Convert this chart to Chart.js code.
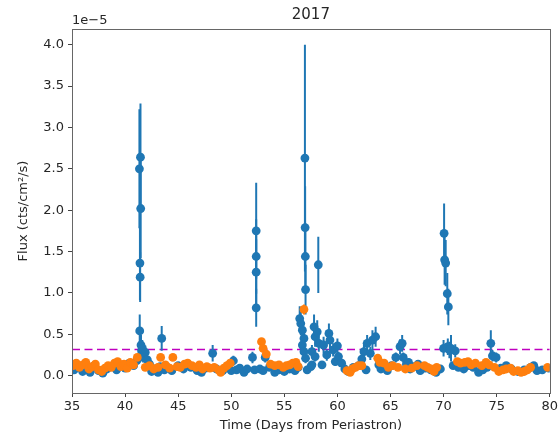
<!DOCTYPE html>
<html>
<head>
<meta charset="utf-8">
<title>2017</title>
<script src="https://cdn.jsdelivr.net/npm/chart.js@4/dist/chart.umd.min.js"></script>
<style>
  body { margin: 0; background: #fff; }
  #wrap { width: 560px; height: 437px; }
</style>
</head>
<body>
<div id="wrap"><canvas id="fluxChart" width="560" height="437"></canvas></div>
<script>
// flux in units of 1e-5 cts/cm^2/s, time in days from periastron
var blueX = [35.2, 35.6, 36.0, 36.3, 36.7, 37.1, 37.5, 37.9, 38.3, 38.8, 39.2, 39.6, 40.0, 40.4, 40.8, 41.1,
    41.35, 41.40, 41.42, 41.45, 41.47, 41.38, 41.50, 41.55, 41.62, 41.7, 41.9, 42.1, 42.3, 42.5, 42.8, 43.1,
    43.45, 43.3, 43.7, 44.0, 44.4, 45.0, 45.5, 46.2, 46.8, 47.2, 47.6, 48.25, 48.6, 49.2, 49.6, 50.2, 50.0,
    50.5, 50.8, 51.2, 51.5, 52.0, 52.2, 52.35, 52.35, 52.35, 52.35, 52.7, 53.0, 53.2, 53.6, 54.1, 54.5, 55.0,
    55.5, 56.0, 56.3, 56.45, 56.55, 56.7, 56.85, 56.7, 56.85, 57.0, 56.94, 56.96, 56.98, 57.0, 57.15, 57.5,
    57.6, 57.6, 57.8, 57.9, 57.9, 58.1, 58.2, 58.25, 58.55, 58.7, 59.0, 59.2, 59.3, 59.6, 59.8, 60.1, 60.0,
    60.4, 60.7, 61.0, 61.5, 62.0, 62.3, 62.5, 62.7, 62.8, 63.1, 63.3, 63.6, 63.9, 64.1, 64.4, 64.7, 65.1,
    65.5, 65.9, 66.1, 66.2, 66.5, 66.7, 66.85, 67.2, 67.6, 67.8, 68.3, 68.8, 69.3, 69.7, 70.0, 70.05, 70.1,
    70.2, 70.35, 70.45, 70.4, 70.55, 70.7, 70.9, 71.1, 71.4, 71.9, 72.4, 72.8, 73.3, 73.7, 74.1, 74.45, 74.6,
    74.95, 75.4, 75.9, 76.4, 77.0, 77.6, 78.2, 78.5, 78.8, 79.3, 79.9];
var blueY = [0.07, 0.10, 0.05, 0.09, 0.04, 0.12, 0.06, 0.03, 0.08, 0.11, 0.07, 0.13, 0.09, 0.15, 0.12, 0.18,
    2.50, 1.36, 1.19, 2.64, 2.02, 0.54, 0.37, 0.30, 0.33, 0.22, 0.28, 0.19, 0.14, 0.05, 0.08, 0.04,
    0.45, 0.11, 0.07, 0.10, 0.06, 0.12, 0.08, 0.10, 0.06, 0.04, 0.09, 0.27, 0.08, 0.06, 0.10, 0.18, 0.06,
    0.07, 0.09, 0.04, 0.08, 0.22, 0.07, 1.75, 1.44, 1.25, 0.82, 0.08, 0.06, 0.22, 0.10, 0.04, 0.07, 0.05,
    0.08, 0.06, 0.10, 0.69, 0.63, 0.55, 0.45, 0.37, 0.29, 0.21, 2.63, 1.79, 1.44, 1.04, 0.07, 0.11,
    0.29, 0.13, 0.59, 0.47, 0.23, 0.53, 1.34, 0.39, 0.13, 0.37, 0.25, 0.51, 0.43, 0.31, 0.17, 0.23, 0.36,
    0.15, 0.08, 0.05, 0.10, 0.12, 0.20, 0.29, 0.07, 0.39, 0.27, 0.43, 0.47, 0.13, 0.08, 0.11, 0.06, 0.12,
    0.22, 0.35, 0.39, 0.22, 0.14, 0.16, 0.08, 0.11, 0.14, 0.06, 0.09, 0.07, 0.04, 0.08, 0.33, 1.72, 1.40,
    1.36, 0.99, 0.83, 0.35, 0.31, 0.33, 0.12, 0.30, 0.10, 0.08, 0.12, 0.10, 0.04, 0.07, 0.10, 0.39, 0.24,
    0.22, 0.09, 0.12, 0.08, 0.05, 0.07, 0.10, 0.12, 0.06, 0.07, 0.09];
var blueErr = [0.03, 0.03, 0.03, 0.03, 0.03, 0.04, 0.03, 0.03, 0.03, 0.04, 0.03, 0.04, 0.03, 0.04, 0.04, 0.05,
    0.72, 0.45, 0.30, 0.65, 0.60, 0.20, 0.12, 0.10, 0.10, 0.06, 0.08, 0.05, 0.04, 0.03, 0.03, 0.03,
    0.15, 0.04, 0.03, 0.03, 0.03, 0.04, 0.03, 0.03, 0.03, 0.03, 0.03, 0.10, 0.03, 0.03, 0.03, 0.06, 0.03,
    0.03, 0.03, 0.03, 0.03, 0.07, 0.03, 0.58, 0.45, 0.40, 0.23, 0.03, 0.03, 0.06, 0.03, 0.03, 0.03, 0.03,
    0.03, 0.03, 0.04, 0.15, 0.14, 0.12, 0.10, 0.10, 0.08, 0.06, 1.37, 0.50, 0.40, 0.30, 0.03, 0.04,
    0.08, 0.04, 0.15, 0.12, 0.06, 0.14, 0.34, 0.10, 0.04, 0.10, 0.07, 0.12, 0.10, 0.08, 0.05, 0.06, 0.09,
    0.04, 0.03, 0.03, 0.03, 0.04, 0.06, 0.08, 0.03, 0.10, 0.08, 0.12, 0.12, 0.04, 0.03, 0.04, 0.03, 0.04,
    0.06, 0.09, 0.10, 0.06, 0.04, 0.05, 0.03, 0.03, 0.04, 0.03, 0.03, 0.03, 0.03, 0.03, 0.10, 0.36, 0.30,
    0.28, 0.25, 0.22, 0.10, 0.10, 0.16, 0.04, 0.08, 0.03, 0.03, 0.04, 0.03, 0.03, 0.03, 0.03, 0.16, 0.07,
    0.06, 0.03, 0.04, 0.03, 0.03, 0.03, 0.03, 0.04, 0.03, 0.03, 0.03];

var orangeX = [35.1, 35.4, 35.7, 36.0, 36.3, 36.6, 36.9, 37.2, 37.5, 37.8, 38.1, 38.4, 38.7, 39.0, 39.3, 39.6,
    39.9, 40.2, 40.5, 40.8, 41.15, 41.9, 42.3, 42.7, 43.1, 43.35, 43.8, 44.2, 44.5, 44.9, 45.2, 45.6, 45.9,
    46.3, 46.7, 47.0, 47.3, 47.7, 48.0, 48.4, 48.8, 49.0, 49.3, 49.6, 49.9, 52.85, 53.0, 53.3, 53.7, 54.1,
    54.5, 54.9, 55.2, 55.5, 55.8, 56.1, 56.3, 56.85, 60.9, 61.2, 61.4, 61.7, 62.0, 62.3, 63.8, 64.0, 64.4,
    64.8, 65.2, 65.7, 66.4, 67.0, 67.5, 68.2, 68.5, 68.8, 69.1, 69.35, 71.3, 71.6, 72.0, 72.3, 72.6, 73.0,
    73.6, 74.0, 74.3, 74.8, 75.2, 75.6, 75.9, 76.3, 76.6, 77.0, 77.3, 77.6, 77.9, 78.2, 79.8];
var orangeY = [0.12, 0.15, 0.10, 0.13, 0.16, 0.08, 0.11, 0.14, 0.07, 0.05, 0.09, 0.12, 0.10, 0.15, 0.17, 0.11,
    0.14, 0.09, 0.16, 0.13, 0.22, 0.10, 0.12, 0.08, 0.10, 0.22, 0.13, 0.09, 0.22, 0.11, 0.10, 0.14, 0.15,
    0.12, 0.10, 0.13, 0.08, 0.11, 0.09, 0.10, 0.07, 0.04, 0.09, 0.12, 0.15, 0.41, 0.33, 0.26, 0.14, 0.12,
    0.13, 0.10, 0.12, 0.13, 0.15, 0.16, 0.11, 0.80, 0.06, 0.04, 0.08, 0.10, 0.12, 0.12, 0.21, 0.16, 0.15,
    0.10, 0.12, 0.10, 0.08, 0.09, 0.12, 0.12, 0.10, 0.08, 0.05, 0.10, 0.17, 0.15, 0.16, 0.17, 0.13, 0.15,
    0.12, 0.16, 0.13, 0.10, 0.05, 0.07, 0.08, 0.09, 0.05, 0.06, 0.04, 0.05, 0.07, 0.10, 0.10];
var orangeErr = [0.02, 0.02, 0.02, 0.02, 0.02, 0.02, 0.02, 0.02, 0.02, 0.02, 0.02, 0.02, 0.02, 0.02, 0.02, 0.02,
    0.02, 0.02, 0.02, 0.02, 0.03, 0.02, 0.02, 0.02, 0.02, 0.03, 0.02, 0.02, 0.03, 0.02, 0.02, 0.02, 0.02,
    0.02, 0.02, 0.02, 0.02, 0.02, 0.02, 0.02, 0.02, 0.02, 0.02, 0.02, 0.02, 0.04, 0.03, 0.03, 0.02, 0.02,
    0.02, 0.02, 0.02, 0.02, 0.02, 0.02, 0.02, 0.06, 0.02, 0.02, 0.02, 0.02, 0.02, 0.02, 0.03, 0.02, 0.02,
    0.02, 0.02, 0.02, 0.02, 0.02, 0.02, 0.02, 0.02, 0.02, 0.02, 0.02, 0.02, 0.02, 0.02, 0.02, 0.02, 0.02,
    0.02, 0.02, 0.02, 0.02, 0.02, 0.02, 0.02, 0.02, 0.02, 0.02, 0.02, 0.02, 0.02, 0.02, 0.02];

var threshold = 0.315;
var xTicks = [35, 40, 45, 50, 55, 60, 65, 70, 75, 80];
var yTicks = [0.0, 0.5, 1.0, 1.5, 2.0, 2.5, 3.0, 3.5, 4.0];

var BLUE = '#1f77b4';
var ORANGE = '#ff7f0e';
var FONT = 'DejaVu Sans';

function pontos(xs, ys, errs) {
    return xs.map(function (x, i) { return { x: x, y: ys[i], err: errs[i] }; });
}

// vertical error bars, drawn just under each dataset's markers
var errorBars = {
    id: 'errorBars',
    beforeDatasetDraw: function (chart, args) {
        var ds = chart.data.datasets[args.index];
        if (!ds.errorBars) return;
        var ctx = chart.ctx, xs = chart.scales.x, ys = chart.scales.y;
        ctx.save();
        ctx.beginPath();
        ctx.rect(chart.chartArea.left, chart.chartArea.top, chart.chartArea.width, chart.chartArea.height);
        ctx.clip();
        ctx.strokeStyle = ds.borderColor;
        ctx.lineWidth = 2;
        ds.data.forEach(function (p) {
            var px = xs.getPixelForValue(p.x);
            ctx.beginPath();
            ctx.moveTo(px, ys.getPixelForValue(p.y - p.err));
            ctx.lineTo(px, ys.getPixelForValue(p.y + p.err));
            ctx.stroke();
        });
        ctx.restore();
    }
};

// frame around the plot, title and the 1e-5 offset label
var moldura = {
    id: 'moldura',
    afterDraw: function (chart) {
        var ctx = chart.ctx, a = chart.chartArea;
        ctx.save();
        ctx.strokeStyle = '#666';
        ctx.lineWidth = 1;
        ctx.strokeRect(Math.round(a.left) + 0.5, Math.round(a.top) + 0.5, Math.round(a.width), Math.round(a.height));
        ctx.fillStyle = '#262626';
        ctx.textBaseline = 'alphabetic';
        ctx.font = '15px "' + FONT + '"';
        ctx.textAlign = 'center';
        ctx.fillText('2017', (a.left + a.right) / 2, 19);
        ctx.font = '13px "' + FONT + '"';
        ctx.textAlign = 'left';
        ctx.fillText('1e\u22125', a.left, 24);
        ctx.restore();
    }
};

var ctx = document.getElementById('fluxChart').getContext('2d');
var fluxChart = new Chart(ctx, {
    data: {
        datasets: [{
            type: 'line',
            data: [{ x: 35, y: threshold }, { x: 80, y: threshold }],
            borderColor: '#bf00bf', borderWidth: 1.6, borderDash: [8, 4.5],
            pointRadius: 0, fill: false, order: 3,
        }, {
            type: 'scatter',
            data: pontos(blueX, blueY, blueErr),
            borderColor: BLUE, backgroundColor: BLUE,
            pointRadius: 4.4, borderWidth: 0, errorBars: true, order: 2,
        }, {
            type: 'scatter',
            data: pontos(orangeX, orangeY, orangeErr),
            borderColor: ORANGE, backgroundColor: ORANGE,
            pointRadius: 4.4, borderWidth: 0, errorBars: true, order: 1,
        }]
    },
    options: {
        responsive: false, animation: false,
        layout: { padding: { top: 29, right: 2, left: 0, bottom: 0 } },
        plugins: { legend: { display: false }, tooltip: { enabled: false }, title: { display: false } },
        scales: {
            x: {
                type: 'linear', min: 35, max: 80,
                afterBuildTicks: function (s) { s.ticks = xTicks.map(function (v) { return { value: v }; }); },
                afterFit: function (s) { s.height = 44; },
                grid: { drawOnChartArea: false, drawTicks: true, tickLength: 4, color: '#444' },
                border: { display: false },
                ticks: { color: '#262626', font: { family: FONT, size: 13 }, padding: 2, maxRotation: 0,
                    callback: function (v) { return String(v); } },
                title: { display: true, text: 'Time (Days from Periastron)', color: '#262626',
                    font: { family: FONT, size: 13 }, padding: { top: 0, bottom: 4 } }
            },
            y: {
                type: 'linear', min: -0.21, max: 4.19,
                afterBuildTicks: function (s) { s.ticks = yTicks.map(function (v) { return { value: v }; }); },
                afterFit: function (s) { s.width = 72; },
                grid: { drawOnChartArea: false, drawTicks: true, tickLength: 4, color: '#444' },
                border: { display: false },
                ticks: { color: '#262626', font: { family: FONT, size: 13 }, padding: 4,
                    callback: function (v) { return v.toFixed(1); } },
                title: { display: true, text: 'Flux (cts/cm\u00b2/s)', color: '#262626',
                    font: { family: FONT, size: 13 }, padding: { top: 16, bottom: 0 } }
            }
        }
    },
    plugins: [errorBars, moldura]
});
</script>
</body>
</html>
